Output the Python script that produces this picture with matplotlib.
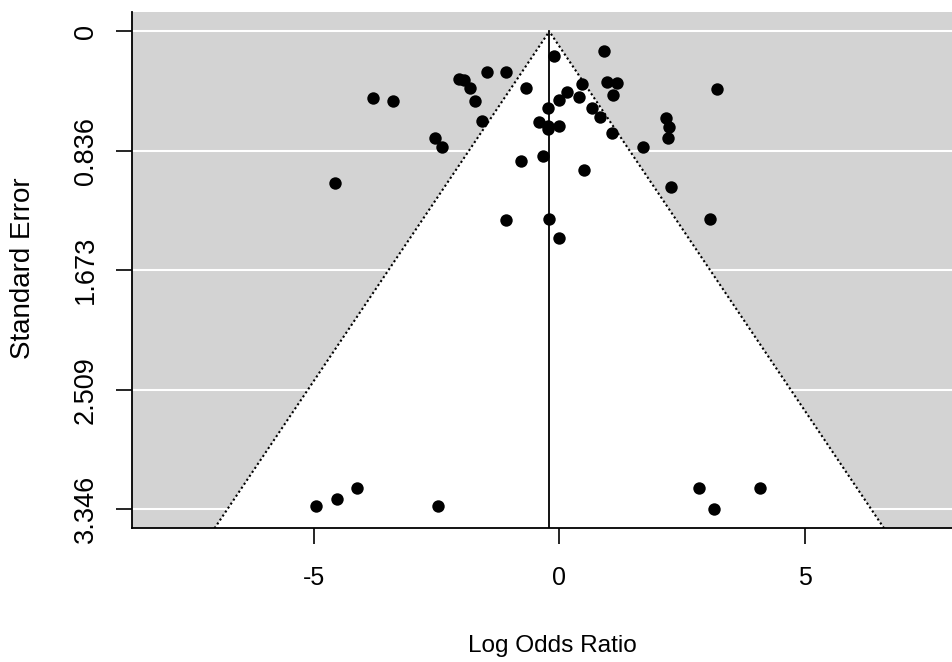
import numpy as np
import matplotlib
matplotlib.use("Agg")
import matplotlib.pyplot as plt

# ---- data ----
log_odds = [0.899, -0.106, -1.481, -1.078, -2.040, -1.934, -1.822, -0.674, 0.465, 0.964,
            1.167, 1.098, -3.798, -3.390, -1.720, 0.155, -0.002, 0.395, -0.238, 0.664,
            0.831, -1.583, -0.416, -0.226, -0.226, -0.002, 1.066, 1.707, -0.340, -0.782,
            0.497, 2.274, -1.078, -0.206, 3.069, -0.004, 2.172, 2.239, 2.207, 3.211,
            -2.529, -2.386, -4.572, -4.965, -4.531, -4.130, -2.480, 2.850, 3.144, 4.087]
std_err = [0.136, 0.174, 0.283, 0.283, 0.332, 0.341, 0.396, 0.394, 0.368, 0.354,
           0.363, 0.445, 0.469, 0.490, 0.490, 0.427, 0.478, 0.457, 0.539, 0.539,
           0.600, 0.626, 0.636, 0.661, 0.685, 0.661, 0.712, 0.808, 0.870, 0.905,
           0.968, 1.090, 1.322, 1.312, 1.312, 1.448, 0.609, 0.666, 0.747, 0.406,
           0.743, 0.808, 1.064, 3.323, 3.274, 3.199, 3.323, 3.199, 3.346, 3.199]
estimate = -0.206
ytick_labels = ["0", "0.836", "1.673", "2.509", "3.346"]
xtick_vals = [-5, 0, 5]
x_label = "Log Odds Ratio"
y_label = "Standard Error"

plt.rcParams['font.family'] = ['Liberation Sans', 'DejaVu Sans']

W, H = 953, 662
fig = plt.figure(figsize=(W / 100, H / 100), dpi=100)
left_px, right_px, top_px, bot_px = 131.7, 966.3, 12.3, 528.3
ax = fig.add_axes([left_px / W, 1 - bot_px / H, (right_px - left_px) / W, (bot_px - top_px) / H])

max_se = max(std_err)
yticks = [float(t) for t in ytick_labels]
xlim = (-8.714, 8.29)
ylim = (max_se * 1.04, -max_se * 0.04)
ax.set_xlim(*xlim)
ax.set_ylim(*ylim)

ax.set_facecolor('#D3D3D3')
# funnel region (white)
yb = ylim[0]
poly_x = [estimate - 1.96 * yb, estimate, estimate + 1.96 * yb]
poly_y = [yb, 0, yb]
ax.fill(poly_x, poly_y, color='white', zorder=1, lw=0)
# gridlines
for t in yticks:
    ax.axhline(t, color='white', lw=1.5, zorder=2)
# funnel lines
dots = (0, (1.0, 1.3))
ax.plot([estimate - 1.96 * yb, estimate], [yb, 0], color='black', lw=1.5,
        linestyle=dots, zorder=3)
ax.plot([estimate + 1.96 * yb, estimate], [yb, 0], color='black', lw=1.5,
        linestyle=dots, zorder=3)
ax.plot([estimate, estimate], [0, yb], color='black', lw=1.3, zorder=3)

ax.scatter(log_odds, std_err, s=80, color='black', zorder=4, linewidths=0)

for s in ['top', 'right']:
    ax.spines[s].set_visible(False)
for s in ['left', 'bottom']:
    ax.spines[s].set_linewidth(1.3)
    ax.spines[s].set_color('black')

ax.set_xticks(xtick_vals)
ax.set_xticklabels([str(v) for v in xtick_vals], fontsize=18)
ax.set_yticks(yticks)
ax.set_yticklabels(ytick_labels, rotation=90, va='center', fontsize=19.5)
ax.tick_params(axis='both', length=11.5, width=1.2, color='black')
ax.tick_params(axis='x', pad=15.5)
ax.tick_params(axis='y', pad=12)

fig.text(552 / W, 1 - 646 / H, x_label, ha='center', va='center', fontsize=17.6)
fig.text(23 / W, 1 - 268.5 / H, y_label, ha='center', va='center', rotation=90, fontsize=20)

fig.savefig('out.png', dpi=100)
